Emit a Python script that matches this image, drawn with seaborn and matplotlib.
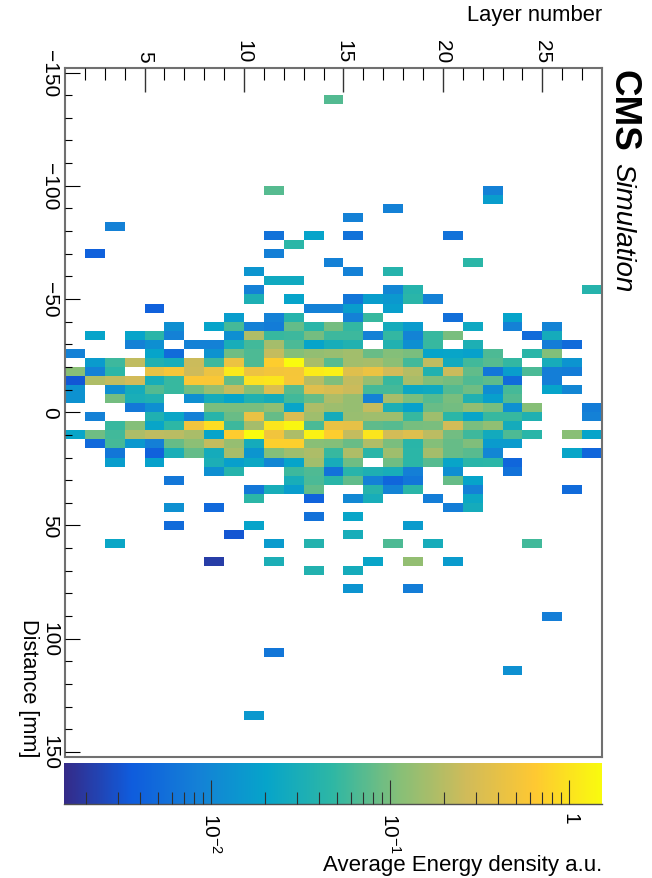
import numpy as np
import pandas as pd
import matplotlib
matplotlib.use("Agg")
import matplotlib.pyplot as plt
from matplotlib.colors import LogNorm, LinearSegmentedColormap
import seaborn as sns

# Lower edge of each populated distance bin [mm]
distance_rows = [-140, -100, -96, -92, -88, -84, -80, -76, -72, -68, -64, -60, -56, -52, -48, -44,
                 -40, -36, -32, -28, -24, -20, -16, -12, -8, -4, 0, 4, 8, 12, 16, 20, 24, 28, 32,
                 36, 40, 44, 48, 52, 56, 64, 68, 76, 88, 104, 112, 132]

# Layer numbers filled in each of those rows
layer_rows = [
    [14],
    [11, 22],
    [22],
    [17],
    [15],
    [3],
    [11, 13, 15, 20],
    [12],
    [2, 11],
    [14, 21],
    [10, 15, 17],
    [11, 12],
    [10, 17, 18, 27],
    [10, 12, 15, 16, 17, 18, 19],
    [5, 13, 14, 15, 17],
    [9, 11, 12, 15, 16, 20, 23],
    [6, 8, 9, 10, 11, 12, 13, 14, 15, 17, 18, 21, 23, 25],
    [2, 4, 5, 6, 9, 10, 11, 12, 13, 14, 15, 16, 17, 18, 19, 20, 24, 25],
    [4, 5, 7, 8, 9, 10, 11, 12, 13, 14, 15, 17, 18, 19, 21, 25, 26],
    [1, 5, 6, 8, 9, 10, 11, 12, 13, 14, 15, 16, 17, 18, 19, 20, 21, 22, 24, 25],
    [2, 3, 4, 5, 6, 7, 8, 9, 10, 11, 12, 13, 14, 15, 16, 17, 18, 19, 20, 21, 22, 23, 25, 26],
    [1, 2, 3, 5, 6, 7, 8, 9, 10, 11, 12, 13, 14, 15, 16, 17, 18, 19, 20, 21, 22, 23, 24, 25, 26],
    [1, 2, 3, 4, 5, 6, 7, 8, 9, 10, 11, 12, 13, 14, 15, 16, 17, 18, 19, 20, 21, 22, 23, 25],
    [1, 3, 4, 5, 6, 7, 8, 9, 10, 11, 12, 13, 14, 15, 16, 17, 18, 19, 20, 21, 22, 23, 25, 26],
    [1, 3, 4, 5, 7, 8, 9, 10, 11, 12, 13, 14, 15, 16, 17, 18, 19, 20, 21, 22, 23],
    [4, 5, 8, 9, 10, 11, 12, 13, 14, 15, 16, 17, 18, 19, 20, 21, 22, 23, 24, 27],
    [2, 5, 6, 7, 8, 9, 10, 11, 12, 13, 14, 15, 16, 17, 18, 19, 20, 21, 22, 23, 24, 27],
    [3, 4, 5, 6, 7, 8, 9, 10, 11, 12, 13, 14, 15, 16, 17, 18, 19, 20, 21, 22, 23],
    [1, 2, 3, 4, 5, 6, 7, 8, 9, 10, 11, 12, 13, 14, 15, 16, 17, 18, 19, 20, 21, 22, 23, 24, 26, 27],
    [2, 3, 4, 5, 6, 7, 8, 9, 10, 11, 12, 13, 14, 15, 16, 17, 18, 19, 20, 21, 22, 23],
    [3, 5, 6, 7, 8, 9, 10, 11, 12, 13, 14, 15, 16, 17, 18, 19, 20, 21, 22, 26, 27],
    [3, 5, 8, 9, 10, 11, 12, 13, 14, 15, 17, 18, 19, 20, 21, 22, 23],
    [8, 9, 12, 13, 14, 15, 16, 17, 18, 20, 23],
    [6, 12, 13, 14, 15, 16, 17, 18, 20, 21],
    [10, 11, 12, 13, 16, 17, 18, 21, 26],
    [10, 13, 15, 16, 19, 21],
    [6, 8, 20, 21],
    [13, 15],
    [6, 10, 18],
    [9, 15],
    [3, 11, 13, 17, 19, 24],
    [8, 11, 16, 18, 20],
    [13, 15],
    [15, 18],
    [25],
    [11],
    [23],
    [10],
]

energy_rows = [
    [.068],
    [.07, .0085],
    [.017],
    [.0085],
    [.0085],
    [.0085],
    [.006, .02, .006, .006],
    [.045],
    [.004, .0082],
    [.0085, .045],
    [.014, .0085, .04],
    [.025, .025],
    [.0085, .0095, .04, .04],
    [.033, .02, .0065, .017, .015, .044, .0085],
    [.004, .0085, .0085, .017, .018],
    [.017, .0085, .04, .0085, .052, .0055, .02],
    [.012, .02, .06, .0085, .0075, .08, .043, .095, .05, .028, .016, .024, .0085, .009],
    [.02, .02, .044, .0085, .012, .18, .052, .055, .095, .055, .055, .0085, .05, .009, .052, .098, .005, .028],
    [.0085, .012, .0085, .0085, .03, .058, .16, .063, .02, .03, .036, .036, .012, .052, .033, .0078, .005],
    [.0085, .02, .005, .013, .09, .065, .23, .11, .13, .14, .155, .085, .11, .1, .02, .021, .019, .065, .043, .108],
    [.016, .055, .22, .035, .03, .25, .055, .45, .065, .7, 1.5, .17, .07, .155, .165, .12, .058, .22, .026, .057, .07, .05, .029, .0135],
    [.115, .0085, .045, .42, .55, .26, .45, 1.1, .46, .52, .54, 1.15, 1.25, .35, .45, .27, .19, .036, .25, .078, .0065, .017, .063, .008, .0075],
    [.0033, .18, .22, .27, .03, .052, .6, .58, .08, .97, 1.05, .55, .2, .105, .23, .135, .052, .17, .105, .095, .066, .075, .005, .008],
    [.013, .012, .028, .068, .052, .09, .14, .23, .11, .33, .07, .35, .3, .25, .06, .06, .023, .025, .068, .09, .0115, .06, .02, .0095],
    [.013, .095, .031, .035, .012, .028, .02, .035, .028, .057, .082, .175, .135, .0085, .165, .1, .07, .098, .035, .018, .068],
    [.007, .012, .1, .1, .1, .125, .021, .175, .145, .135, .23, .032, .019, .085, .093, .13, .097, .0125, .112, .0075],
    [.0085, .035, .022, .0085, .042, .085, .43, .083, .31, .15, .028, .14, .15, .15, .052, .15, .045, .021, .052, .052, .035, .0085],
    [.052, .11, .021, .047, .5, .92, .055, .16, 1.05, 1.4, .063, .43, .4, .077, .07, .097, .1, .28, .1, .125, .028],
    [.021, .09, .057, .175, .215, .205, .17, .02, .68, 1.5, .5, .175, 1.3, .7, .23, 1.05, .28, .34, .21, .092, .056, .027, .065, .043, .115, .02],
    [.0048, .06, .015, .0082, .083, .12, .23, .135, .028, .72, .72, .115, .11, .085, .185, .1, .043, .11, .083, .105, .016, .016],
    [.0065, .004, .031, .08, .028, .165, .014, .11, .15, .175, .052, .18, .043, .15, .045, .16, .083, .072, .0095, .021, .0045],
    [.017, .019, .032, .018, .023, .0095, .02, .155, .029, .09, .09, .045, .07, .021, .043, .045, .0045],
    [.012, .04, .055, .066, .006, .042, .034, .03, .0082, .012, .006],
    [.0068, .03, .063, .043, .078, .0085, .0045, .0065, .082, .02],
    [.0068, .03, .017, .078, .04, .009, .044, .0085, .005],
    [.045, .0042, .01, .03, .0078, .023],
    [.0125, .0048, .0078, .028],
    [.0058, .021],
    [.005, .02, .016],
    [.0032, .03],
    [.022, .016, .038, .065, .029, .057],
    [.0021, .032, .021, .13, .016],
    [.037, .028],
    [.0135, .0078],
    [.008],
    [.0065],
    [.0125],
    [.015],
]

layer_ticks_major = [5, 10, 15, 20, 25]
distance_ticks_major = [-150, -100, -50, 0, 50, 100, 150]
cbar_ticks_major = [0.01, 0.1, 1]
cbar_labels = ["$10^{-2}$", "$10^{-1}$", "1"]
bird_colors = ["#352a87", "#0f5cdd", "#1481d6", "#06a4ca", "#2eb7a4",
               "#87bf77", "#d1bb59", "#fec832", "#f9fb0e"]

W, H = 652, 879
LAYER_EDGES = np.arange(1, 28)
DIST_EDGES = np.arange(-152, 152, 4)

records = []
for d, ls, es in zip(distance_rows, layer_rows, energy_rows, strict=True):
    for l, e in zip(ls, es, strict=True):
        records.append((d, l, e))
df = pd.DataFrame(records, columns=["distance", "layer", "energy"])
grid = (df.pivot(index="distance", columns="layer", values="energy")
          .reindex(index=DIST_EDGES, columns=LAYER_EDGES))

sns.set_style("white")
plt.rcParams["font.family"] = ["Liberation Sans", "DejaVu Sans"]
plt.rcParams["mathtext.fontset"] = "custom"
plt.rcParams["mathtext.rm"] = "Liberation Sans"
plt.rcParams["mathtext.default"] = "regular"
plt.rcParams["text.color"] = "black"
plt.rcParams["xtick.labelcolor"] = "black"
plt.rcParams["ytick.labelcolor"] = "black"

fig = plt.figure(figsize=(W / 100, H / 100), dpi=100)


def box(x0, x1, y0, y1):
    return [x0 / W, 1 - y1 / H, (x1 - x0) / W, (y1 - y0) / H]


ax = fig.add_axes(box(65, 602, 69, 757.5))
cax = fig.add_axes(box(64, 602, 763.5, 805))

cmap = LinearSegmentedColormap.from_list("bird", bird_colors, N=512)
sns.heatmap(grid, ax=ax, cmap=cmap, norm=LogNorm(vmin=0.0015, vmax=1.52),
            cbar=True, cbar_ax=cax, cbar_kws={"orientation": "horizontal"},
            xticklabels=False, yticklabels=False)

GRAY = "#707070"
for s in ax.spines.values():
    s.set_visible(True)
    s.set_color(GRAY)
    s.set_linewidth(1.5)
ax.set_axisbelow(False)
cax.set_axisbelow(False)


def x_pos(v):
    return np.asarray(v, float) - 1


def y_pos(v):
    return (np.asarray(v, float) + 152) / 4


ax.xaxis.tick_top()
ax.set_xticks(x_pos(layer_ticks_major))
ax.set_xticklabels([str(v) for v in layer_ticks_major], rotation=-90, ha="center", va="bottom", fontsize=15)
ax.set_xticks(x_pos([v for v in range(2, 28) if v not in layer_ticks_major]), minor=True)
ax.set_yticks(y_pos(distance_ticks_major))
ax.set_yticklabels([str(v).replace("-", "\u2212") for v in distance_ticks_major],
                   rotation=-90, ha="right", va="center", fontsize=15)
ax.set_yticks(y_pos([v for v in range(-150, 151, 10) if v not in distance_ticks_major]), minor=True)
ax.set_xlabel("")
ax.set_ylabel("")
PX = 0.72
ax.tick_params(axis="x", which="major", direction="in", top=True, bottom=False, length=24 * PX,
               width=1.0, color="#333333", pad=6 * PX)
ax.tick_params(axis="x", which="minor", direction="in", top=True, bottom=False, length=12 * PX,
               width=0.8, color="black")
ax.tick_params(axis="y", which="major", direction="in", left=True, right=False, length=15 * PX,
               width=0.8, color="black", pad=6 * PX)
ax.tick_params(axis="y", which="minor", direction="in", left=True, right=False, length=7 * PX,
               width=0.8, color="black")

cb = ax.collections[0].colorbar
cb.outline.set_visible(False)
cax.set_xticks(cbar_ticks_major)
cax.set_xticklabels(cbar_labels, rotation=-90, ha="center", va="top", fontsize=15)
minor_vals = [m * 10.0 ** e for e in (-3, -2, -1) for m in range(2, 10)]
cax.set_xticks(minor_vals, minor=True)
cax.tick_params(axis="x", which="major", direction="in", bottom=True, length=24 * PX,
                width=0.8, color="#303030", pad=8 * PX)
cax.tick_params(axis="x", which="minor", direction="in", bottom=True, length=12 * PX,
                width=0.8, color="#303030")
cax.spines["bottom"].set_visible(True)
cax.spines["bottom"].set_color("#505050")
cax.spines["bottom"].set_linewidth(1.0)

fig.text(602 / W, 1 - 16 / H, "Layer number", ha="right", va="center", fontsize=15.8)
fig.text(28 / W, 1 - 757 / H, "Distance [mm]", rotation=-90, ha="center", va="bottom", fontsize=15.7)
fig.text(602 / W, 1 - 871.5 / H, "Average Energy density a.u.", ha="right", va="baseline", fontsize=16)
fig.text(623 / W, 1 - 70 / H, "CMS", rotation=-90, ha="center", va="top", fontsize=26.5, fontweight="bold")
fig.text(622 / W, 1 - 163 / H, "Simulation", rotation=-90, ha="center", va="top", fontsize=20, fontstyle="italic")

fig.savefig("out.png", dpi=100, facecolor="white")
